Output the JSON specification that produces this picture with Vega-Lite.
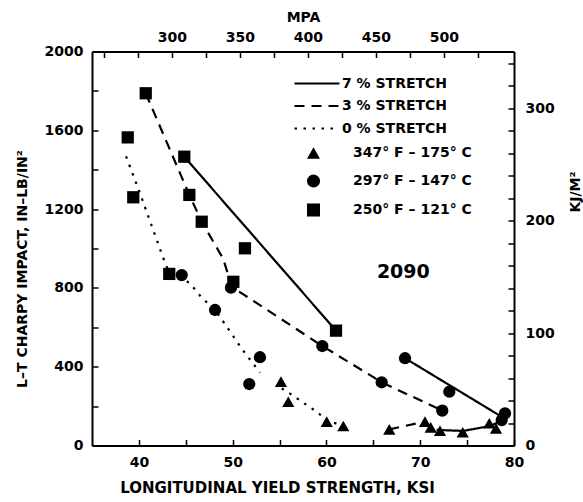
{
  "$schema": "https://vega.github.io/schema/vega-lite/v6.json",
  "width": 422,
  "height": 394,
  "autosize": {"type": "none"},
  "padding": {"left": 92, "top": 51.5, "right": 69, "bottom": 56.5},
  "background": "white",
  "config": {
    "view": {"stroke": null},
    "font": "DejaVu Sans",
    "axis": {
      "grid": false,
      "domainColor": "black",
      "domainWidth": 2,
      "tickColor": "black",
      "tickWidth": 1.5,
      "tickSize": -6,
      "labelFont": "DejaVu Sans",
      "labelFontWeight": "bold",
      "labelFontSize": 14,
      "labelColor": "black",
      "titleFont": "DejaVu Sans",
      "titleFontWeight": "bold",
      "titleFontSize": 14,
      "titleColor": "black",
      "labelFlush": false,
      "labelOverlap": false,
      "labelBound": false
    },
    "legend": {
      "labelFont": "DejaVu Sans",
      "labelFontWeight": "bold",
      "labelFontSize": 14,
      "labelColor": "black",
      "padding": 0
    }
  },
  "datasets": {
    "points": [
      {"ksi": 55.15, "val": 324, "temp": "347° F – 175° C"},
      {"ksi": 55.93, "val": 222, "temp": "347° F – 175° C"},
      {"ksi": 60.03, "val": 121, "temp": "347° F – 175° C"},
      {"ksi": 61.8, "val": 99, "temp": "347° F – 175° C"},
      {"ksi": 66.7, "val": 82, "temp": "347° F – 175° C"},
      {"ksi": 70.51, "val": 121, "temp": "347° F – 175° C"},
      {"ksi": 71.12, "val": 92, "temp": "347° F – 175° C"},
      {"ksi": 72.11, "val": 75, "temp": "347° F – 175° C"},
      {"ksi": 74.53, "val": 67, "temp": "347° F – 175° C"},
      {"ksi": 77.37, "val": 113, "temp": "347° F – 175° C"},
      {"ksi": 78.08, "val": 87, "temp": "347° F – 175° C"},
      {"ksi": 44.57, "val": 865, "temp": "297° F – 147° C"},
      {"ksi": 49.82, "val": 801, "temp": "297° F – 147° C"},
      {"ksi": 48.12, "val": 688, "temp": "297° F – 147° C"},
      {"ksi": 52.91, "val": 448, "temp": "297° F – 147° C"},
      {"ksi": 51.77, "val": 312, "temp": "297° F – 147° C"},
      {"ksi": 59.56, "val": 505, "temp": "297° F – 147° C"},
      {"ksi": 65.89, "val": 321, "temp": "297° F – 147° C"},
      {"ksi": 72.35, "val": 177, "temp": "297° F – 147° C"},
      {"ksi": 68.38, "val": 443, "temp": "297° F – 147° C"},
      {"ksi": 73.1, "val": 273, "temp": "297° F – 147° C"},
      {"ksi": 79.04, "val": 163, "temp": "297° F – 147° C"},
      {"ksi": 78.69, "val": 129, "temp": "297° F – 147° C"},
      {"ksi": 40.73, "val": 1788, "temp": "250° F – 121° C"},
      {"ksi": 38.81, "val": 1564, "temp": "250° F – 121° C"},
      {"ksi": 44.84, "val": 1466, "temp": "250° F – 121° C"},
      {"ksi": 39.4, "val": 1260, "temp": "250° F – 121° C"},
      {"ksi": 45.38, "val": 1272, "temp": "250° F – 121° C"},
      {"ksi": 46.7, "val": 1136, "temp": "250° F – 121° C"},
      {"ksi": 51.31, "val": 1001, "temp": "250° F – 121° C"},
      {"ksi": 43.24, "val": 871, "temp": "250° F – 121° C"},
      {"ksi": 50.07, "val": 831, "temp": "250° F – 121° C"},
      {"ksi": 61.02, "val": 583, "temp": "250° F – 121° C"}
    ],
    "lines": [
      {"seg": "A", "stretch": "7 % STRETCH", "ord": 1, "ksi": 44.84, "val": 1466},
      {"seg": "A", "stretch": "7 % STRETCH", "ord": 2, "ksi": 61.02, "val": 583},
      {"seg": "B", "stretch": "7 % STRETCH", "ord": 1, "ksi": 68.38, "val": 443},
      {"seg": "B", "stretch": "7 % STRETCH", "ord": 2, "ksi": 78.68, "val": 146},
      {"seg": "C", "stretch": "7 % STRETCH", "ord": 1, "ksi": 71.75, "val": 79},
      {"seg": "C", "stretch": "7 % STRETCH", "ord": 2, "ksi": 74.59, "val": 74},
      {"seg": "C", "stretch": "7 % STRETCH", "ord": 3, "ksi": 77.44, "val": 99},
      {"seg": "C", "stretch": "7 % STRETCH", "ord": 4, "ksi": 78.69, "val": 126},
      {"seg": "D", "stretch": "3 % STRETCH", "ord": 1, "ksi": 40.73, "val": 1788},
      {"seg": "D", "stretch": "3 % STRETCH", "ord": 2, "ksi": 45.38, "val": 1272},
      {"seg": "D", "stretch": "3 % STRETCH", "ord": 3, "ksi": 46.7, "val": 1136},
      {"seg": "D", "stretch": "3 % STRETCH", "ord": 4, "ksi": 49.0, "val": 947},
      {"seg": "D", "stretch": "3 % STRETCH", "ord": 5, "ksi": 49.9, "val": 806},
      {"seg": "D", "stretch": "3 % STRETCH", "ord": 6, "ksi": 59.56, "val": 505},
      {"seg": "D", "stretch": "3 % STRETCH", "ord": 7, "ksi": 65.89, "val": 321},
      {"seg": "D", "stretch": "3 % STRETCH", "ord": 8, "ksi": 72.35, "val": 177},
      {"seg": "E", "stretch": "3 % STRETCH", "ord": 1, "ksi": 66.7, "val": 82},
      {"seg": "E", "stretch": "3 % STRETCH", "ord": 2, "ksi": 70.51, "val": 121},
      {"seg": "F", "stretch": "0 % STRETCH", "ord": 1, "ksi": 38.63, "val": 1468},
      {"seg": "F", "stretch": "0 % STRETCH", "ord": 2, "ksi": 40.22, "val": 1267},
      {"seg": "F", "stretch": "0 % STRETCH", "ord": 3, "ksi": 42.54, "val": 959},
      {"seg": "F", "stretch": "0 % STRETCH", "ord": 4, "ksi": 43.24, "val": 875},
      {"seg": "F", "stretch": "0 % STRETCH", "ord": 5, "ksi": 44.6, "val": 850},
      {"seg": "F", "stretch": "0 % STRETCH", "ord": 6, "ksi": 45.45, "val": 823},
      {"seg": "F", "stretch": "0 % STRETCH", "ord": 7, "ksi": 46.7, "val": 750},
      {"seg": "F", "stretch": "0 % STRETCH", "ord": 8, "ksi": 48.12, "val": 690},
      {"seg": "F", "stretch": "0 % STRETCH", "ord": 9, "ksi": 50.96, "val": 492},
      {"seg": "F", "stretch": "0 % STRETCH", "ord": 10, "ksi": 52.91, "val": 370},
      {"seg": "G", "stretch": "0 % STRETCH", "ord": 1, "ksi": 55.23, "val": 290},
      {"seg": "G", "stretch": "0 % STRETCH", "ord": 2, "ksi": 56.19, "val": 261},
      {"seg": "G", "stretch": "0 % STRETCH", "ord": 3, "ksi": 59.02, "val": 169},
      {"seg": "G", "stretch": "0 % STRETCH", "ord": 4, "ksi": 60.03, "val": 128},
      {"seg": "G", "stretch": "0 % STRETCH", "ord": 5, "ksi": 61.8, "val": 99}
    ],
    "note": [{"label": "2090", "ksi": 68.2, "val": 880}],
    "axes": [{"mpa": 300, "kj": 100}]
  },
  "layer": [
    {
      "encoding": {
        "x": {
          "field": "ksi", "type": "quantitative",
          "scale": {"domain": [35, 80], "nice": false, "zero": false},
          "axis": {
            "orient": "bottom",
            "values": [40, 45, 50, 55, 60, 65, 70, 75, 80],
            "labelExpr": "datum.value % 10 === 0 ? datum.label : ''",
            "labelPadding": 16,
            "title": "LONGITUDINAL YIELD STRENGTH, KSI",
            "titleFontSize": 15,
            "titleX": 185,
            "titleY": 42,
            "titleBaseline": "middle"
          }
        },
        "y": {
          "field": "val", "type": "quantitative",
          "scale": {"domain": [0, 2000], "nice": false, "zero": false},
          "axis": {
            "orient": "left",
            "values": [0, 200, 400, 600, 800, 1000, 1200, 1400, 1600, 1800, 2000],
            "format": "d",
            "labelExpr": "datum.value % 400 === 0 ? datum.label : ''",
            "labelPadding": 15,
            "title": "L–T CHARPY IMPACT, IN–LB/IN²",
            "titleAngle": 270,
            "titleX": -70,
            "titleY": 217,
            "titleAlign": "center",
            "titleBaseline": "middle"
          }
        }
      },
      "layer": [
        {
          "data": {"name": "lines"},
          "mark": {"type": "line", "color": "black", "strokeWidth": 2.2, "strokeCap": "butt"},
          "encoding": {
            "detail": {"field": "seg"},
            "order": {"field": "ord", "type": "quantitative"},
            "strokeDash": {
              "field": "stretch", "type": "nominal",
              "scale": {"domain": ["7 % STRETCH", "3 % STRETCH", "0 % STRETCH"], "range": [[1, 0], [10, 7], [2.5, 6.5]]},
              "legend": {
                "title": null,
                "orient": "none",
                "legendX": 216,
                "legendY": 23,
                "symbolType": "M-3,0H3",
                "symbolSize": 225,
                "symbolStrokeWidth": 2.2,
                "symbolStrokeColor": "black",
                "labelOffset": 16,
                "rowPadding": 6.5
              }
            }
          }
        },
        {
          "data": {"name": "points"},
          "mark": {"type": "point", "filled": true, "color": "black", "opacity": 1, "size": 150},
          "encoding": {
            "shape": {
              "field": "temp", "type": "nominal",
              "scale": {"domain": ["347° F – 175° C", "297° F – 147° C", "250° F – 121° C"], "range": ["triangle-up", "circle", "square"]},
              "legend": {
                "title": null,
                "orient": "none",
                "legendX": 214,
                "legendY": 94,
                "symbolSize": 170,
                "symbolFillColor": "black",
                "symbolStrokeColor": "black",
                "symbolOpacity": 1,
                "labelOffset": 32,
                "rowPadding": 8
              }
            }
          }
        },
        {
          "data": {"name": "note"},
          "mark": {"type": "text", "font": "DejaVu Sans", "fontWeight": "bold", "fontSize": 19, "color": "black"},
          "encoding": {"text": {"field": "label"}}
        }
      ]
    },
    {
      "data": {"name": "axes"},
      "mark": {"type": "point", "opacity": 0},
      "encoding": {
        "x": {
          "field": "mpa", "type": "quantitative",
          "scale": {"domain": [241.3, 551.6], "nice": false, "zero": false},
          "axis": {
            "orient": "top",
            "values": [250, 275, 300, 325, 350, 375, 400, 425, 450, 475, 500, 525],
            "labelExpr": "(datum.value % 50 === 0 && datum.value >= 300 && datum.value <= 500) ? datum.label : ''",
            "labelPadding": 13,
            "title": "MPA",
            "titlePadding": 6
          }
        },
        "y": {
          "field": "kj", "type": "quantitative",
          "scale": {"domain": [0, 350.3], "nice": false, "zero": false},
          "axis": {
            "orient": "right",
            "values": [0, 20, 40, 60, 80, 100, 120, 140, 160, 180, 200, 220, 240, 260, 280, 300, 320, 340],
            "labelExpr": "datum.value % 100 === 0 ? datum.label : ''",
            "labelPadding": 17,
            "title": "KJ/M²",
            "titleAngle": 270,
            "titleX": 61,
            "titleY": 140,
            "titleAlign": "center",
            "titleBaseline": "middle"
          }
        }
      }
    }
  ],
  "resolve": {"scale": {"x": "independent", "y": "independent"}}
}
